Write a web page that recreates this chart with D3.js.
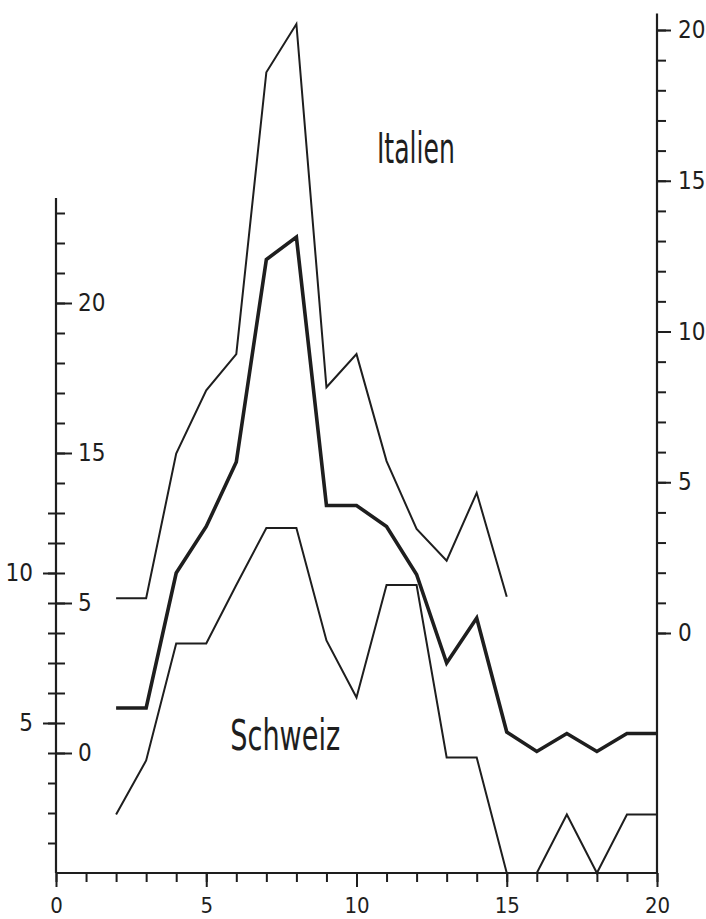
<!DOCTYPE html>
<html>
<head>
<meta charset="utf-8">
<script src="https://cdn.jsdelivr.net/npm/d3@7"></script>
<style>
  html, body { margin: 0; padding: 0; background: #ffffff; }
  svg { display: block; }
  .axis text { font-family: "DejaVu Sans Condensed", "DejaVu Sans", sans-serif; fill: #1e1e1e; }
</style>
</head>
<body>
<svg id="chart" width="706" height="919"></svg>
<script>
// ---- data (each curve in the units of its own axis) ----
const xItalien = [2, 3, 4, 5, 6, 7, 8, 9, 10, 11, 12, 13, 14, 15];
const italien  = [1.15, 1.15, 5.95, 8.05, 9.25, 18.6, 20.2, 8.15, 9.25, 5.7, 3.45, 2.4, 4.65, 1.2];   // right axis

const xMitte = [2, 3, 4, 5, 6, 7, 8, 9, 10, 11, 12, 13, 14, 15, 16, 17, 18, 19, 20];
const mitte  = [1.5, 1.5, 6.0, 7.55, 9.7, 16.45, 17.2, 8.25, 8.25, 7.55, 5.95, 3.0, 4.5, 0.7, 0.05, 0.65, 0.05, 0.65, 0.65]; // inner left axis

const xSchweiz = [2, 3, 4, 5, 6, 7, 8, 9, 10, 11, 12, 13, 14, 15, 16, 17, 18, 19, 20];
const schweiz  = [1.95, 3.75, 7.65, 7.65, 9.6, 11.5, 11.5, 7.75, 5.85, 9.6, 9.6, 3.85, 3.85, 0, 0, 1.95, 0, 1.95, 1.95]; // outer left axis

// tick values / labels
const xTicks = d3.range(0, 21);
const xMajor = [0, 5, 10, 15, 20];
const innerTicks = d3.range(0, 19);
const innerMajor = [0, 5, 10, 15];
const innerLabels = ["0", "5", "15", "20"];
const outerTicks = d3.range(1, 13);
const outerMajor = [5, 10];
const rightTicks = d3.range(0, 21);
const rightMajor = [0, 5, 10, 15, 20];

const textLabels = [
  { text: "Italien", x: 10.68, y: 15.6, len: 78 },   // positioned in right-axis units
  { text: "Schweiz", x: 5.8, y: 4.1, len: 110 }      // positioned in outer-axis units
];

// ---- scales ----
const x = d3.scaleLinear().domain([0, 20]).range([56, 657]);
const yOuter = d3.scaleLinear().domain([0, 12]).range([873, 513]);
const yInner = d3.scaleLinear().domain([0, 18]).range([753, 213]);
const yRight = d3.scaleLinear().domain([0, 20]).range([633, 30]);

const ink = "#1e1e1e";
const svg = d3.select("#chart");
const fs = 24;

function styleAxis(g, size) {
  g.select(".domain").remove();
  g.selectAll(".tick line").attr("stroke", ink).attr("stroke-width", 2);
  g.selectAll("text").attr("font-size", size || fs);
}

// ---- axis lines ----
svg.append("line")
  .attr("x1", x(0)).attr("x2", x(0))
  .attr("y1", yInner(18.5)).attr("y2", yOuter(0))
  .attr("stroke", ink).attr("stroke-width", 2.2);
svg.append("line")
  .attr("x1", x(20)).attr("x2", x(20))
  .attr("y1", yRight(20.55)).attr("y2", yOuter(0))
  .attr("stroke", ink).attr("stroke-width", 2.2);
svg.append("line")
  .attr("x1", x(0)).attr("x2", x(20))
  .attr("y1", yOuter(0)).attr("y2", yOuter(0))
  .attr("stroke", ink).attr("stroke-width", 2.2);

// ---- x axis ----
svg.append("g").attr("class", "axis").attr("transform", `translate(0,${yOuter(0)})`)
  .call(d3.axisBottom(x).tickValues(xTicks).tickSize(9).tickFormat(""))
  .call(g => styleAxis(g));
svg.append("g").attr("class", "axis").attr("transform", `translate(0,${yOuter(0)})`)
  .call(d3.axisBottom(x).tickValues(xMajor).tickSize(14).tickPadding(10).tickFormat(d3.format("d")))
  .call(g => styleAxis(g, 22));

// ---- inner left axis (ticks to the right) ----
svg.append("g").attr("class", "axis").attr("transform", `translate(${x(0)},0)`)
  .call(d3.axisRight(yInner).tickValues(innerTicks).tickSize(9).tickFormat(""))
  .call(g => styleAxis(g));
svg.append("g").attr("class", "axis").attr("transform", `translate(${x(0)},0)`)
  .call(d3.axisRight(yInner).tickValues(innerMajor).tickSize(16).tickPadding(6)
    .tickFormat((d, i) => innerLabels[i]))
  .call(g => styleAxis(g));

// ---- outer left axis (ticks to the left) ----
svg.append("g").attr("class", "axis").attr("transform", `translate(${x(0)},0)`)
  .call(d3.axisLeft(yOuter).tickValues(outerTicks).tickSize(8).tickFormat(""))
  .call(g => styleAxis(g));
svg.append("g").attr("class", "axis").attr("transform", `translate(${x(0)},0)`)
  .call(d3.axisLeft(yOuter).tickValues(outerMajor).tickSize(13).tickPadding(10).tickFormat(d3.format("d")))
  .call(g => styleAxis(g));

// ---- right axis ----
svg.append("g").attr("class", "axis").attr("transform", `translate(${x(20)},0)`)
  .call(d3.axisRight(yRight).tickValues(rightTicks).tickSize(9).tickFormat(""))
  .call(g => styleAxis(g));
svg.append("g").attr("class", "axis").attr("transform", `translate(${x(20)},0)`)
  .call(d3.axisRight(yRight).tickValues(rightMajor).tickSize(14).tickPadding(7).tickFormat(d3.format("d")))
  .call(g => styleAxis(g));

// ---- curves ----
function drawCurve(xs, vs, yScale, width) {
  const pts = xs.map((d, i) => ({ x: d, v: vs[i] }));
  svg.append("path")
    .datum(pts)
    .attr("fill", "none")
    .attr("stroke", ink)
    .attr("stroke-width", width)
    .attr("stroke-linejoin", "miter")
    .attr("d", d3.line().x(d => x(d.x)).y(d => yScale(d.v)));
}
drawCurve(xItalien, italien, yRight, 2);
drawCurve(xSchweiz, schweiz, yOuter, 2);
drawCurve(xMitte, mitte, yInner, 3.6);

// ---- labels ----
const labelFont = "'DejaVu Sans Condensed', 'DejaVu Sans', sans-serif";
svg.append("text")
  .attr("x", x(textLabels[0].x)).attr("y", yRight(textLabels[0].y))
  .attr("font-family", labelFont).attr("font-size", 42)
  .attr("textLength", textLabels[0].len).attr("lengthAdjust", "spacingAndGlyphs")
  .attr("fill", ink).text(textLabels[0].text);
svg.append("text")
  .attr("x", x(textLabels[1].x)).attr("y", yOuter(textLabels[1].y))
  .attr("font-family", labelFont).attr("font-size", 43)
  .attr("textLength", textLabels[1].len).attr("lengthAdjust", "spacingAndGlyphs")
  .attr("fill", ink).text(textLabels[1].text);
</script>
</body>
</html>
